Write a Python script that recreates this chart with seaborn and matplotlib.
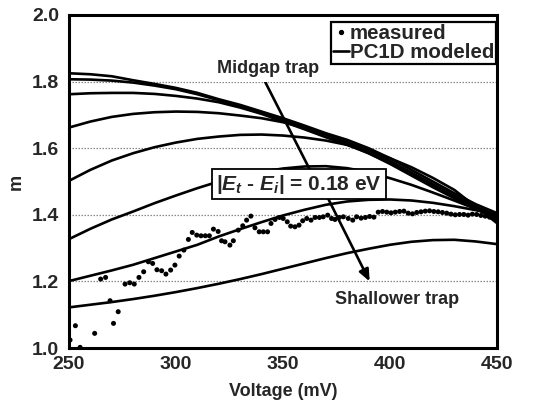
import numpy as np
import pandas as pd
import matplotlib
matplotlib.use("Agg")
import matplotlib.pyplot as plt
import seaborn as sns
from matplotlib.lines import Line2D

# ---------------- data ----------------
voltage_model = [250, 260, 270, 280, 290, 300, 310, 320, 330, 340, 350,
                 360, 370, 380, 390, 400, 410, 420, 430, 440, 450]

curve_a = [1.825, 1.822, 1.816, 1.804, 1.793, 1.781, 1.766, 1.747, 1.730, 1.710, 1.690,
           1.668, 1.645, 1.625, 1.600, 1.570, 1.535, 1.500, 1.465, 1.432, 1.405]
curve_b = [1.807, 1.806, 1.803, 1.797, 1.788, 1.777, 1.762, 1.744, 1.725, 1.705, 1.685,
           1.663, 1.640, 1.618, 1.593, 1.562, 1.527, 1.492, 1.458, 1.425, 1.398]
curve_c = [1.762, 1.765, 1.766, 1.766, 1.763, 1.757, 1.749, 1.738, 1.722, 1.703, 1.680,
           1.657, 1.633, 1.610, 1.585, 1.553, 1.518, 1.483, 1.450, 1.418, 1.390]
curve_d = [1.662, 1.680, 1.694, 1.703, 1.708, 1.710, 1.709, 1.705, 1.698, 1.690, 1.678,
           1.662, 1.643, 1.612, 1.585, 1.555, 1.523, 1.490, 1.455, 1.420, 1.385]
curve_e = [1.502, 1.535, 1.563, 1.585, 1.603, 1.617, 1.628, 1.635, 1.640, 1.641, 1.638,
           1.632, 1.623, 1.610, 1.592, 1.570, 1.543, 1.511, 1.475, 1.425, 1.375]
curve_f = [1.327, 1.358, 1.386, 1.410, 1.435, 1.458, 1.480, 1.500, 1.516, 1.529, 1.539,
           1.545, 1.546, 1.540, 1.528, 1.510, 1.490, 1.467, 1.443, 1.418, 1.393]
curve_g = [1.201, 1.217, 1.233, 1.250, 1.270, 1.290, 1.310, 1.335, 1.357, 1.378, 1.398,
           1.415, 1.430, 1.440, 1.445, 1.446, 1.443, 1.436, 1.426, 1.414, 1.400]
curve_h = [1.122, 1.130, 1.138, 1.147, 1.157, 1.168, 1.180, 1.193, 1.207, 1.222, 1.238,
           1.254, 1.270, 1.285, 1.298, 1.310, 1.319, 1.324, 1.325, 1.320, 1.312]

model_curves = {"A": curve_a, "B": curve_b, "C": curve_c, "D": curve_d,
                "E": curve_e, "F": curve_f, "G": curve_g, "H": curve_h}

voltage_meas = [250.5, 253.0, 255.2, 262.0, 264.8, 267.1, 269.2, 270.8, 273.0, 276.2,
                278.4, 280.5, 282.7, 284.9, 287.1, 289.1, 291.1, 293.3, 295.3, 297.5,
                299.5, 301.5, 303.7, 305.8, 307.6, 309.7, 311.7, 313.7, 315.6, 317.5,
                319.7, 321.3, 322.9, 325.2, 326.8, 329.1, 331.2, 333.0, 335.0, 336.9,
                338.9, 340.8, 342.8, 344.4, 346.3, 348.3, 350.1, 352.0, 353.6, 355.6,
                357.5, 359.2, 361.1, 363.1, 365.0, 367.0, 368.8, 370.9, 372.7, 374.3,
                376.3, 378.2, 380.5, 382.6, 384.4, 386.5, 388.5, 390.5, 392.5, 394.5,
                396.5, 398.5, 400.5, 402.5, 404.5, 406.5, 408.5, 410.5, 412.5, 414.5,
                416.5, 418.5, 420.5, 422.5, 424.5, 426.5, 428.5, 430.5, 432.5, 434.5,
                436.5, 438.5, 440.5, 442.5, 444.5, 446.5, 448.5, 450.0]
m_meas = [1.024, 1.067, 1.002, 1.044, 1.207, 1.212, 1.142, 1.074, 1.109, 1.192,
          1.196, 1.192, 1.212, 1.229, 1.259, 1.254, 1.235, 1.232, 1.222, 1.234,
          1.249, 1.276, 1.294, 1.326, 1.347, 1.339, 1.337, 1.337, 1.337, 1.357,
          1.350, 1.322, 1.319, 1.309, 1.322, 1.354, 1.367, 1.384, 1.396, 1.361,
          1.349, 1.349, 1.349, 1.374, 1.386, 1.392, 1.389, 1.379, 1.366, 1.364,
          1.369, 1.382, 1.389, 1.384, 1.392, 1.392, 1.394, 1.399, 1.389, 1.386,
          1.392, 1.394, 1.389, 1.384, 1.394, 1.390, 1.392, 1.395, 1.393, 1.408,
          1.410, 1.408, 1.406, 1.408, 1.410, 1.411, 1.405, 1.403, 1.407, 1.409,
          1.411, 1.412, 1.410, 1.409, 1.407, 1.405, 1.402, 1.400, 1.401, 1.401,
          1.399, 1.402, 1.401, 1.398, 1.396, 1.393, 1.390, 1.387]

x_ticks = [250, 300, 350, 400, 450]
y_ticks = [1.0, 1.2, 1.4, 1.6, 1.8, 2.0]

# ---------------- style ----------------
sns.set_style("white")
plt.rcParams["font.family"] = ["Liberation Sans", "DejaVu Sans"]
plt.rcParams["font.weight"] = "bold"
plt.rcParams["axes.labelweight"] = "bold"
plt.rcParams["mathtext.fontset"] = "custom"
plt.rcParams["mathtext.rm"] = "Liberation Sans:bold"
plt.rcParams["mathtext.it"] = "Liberation Sans:bold:italic"
plt.rcParams["mathtext.bf"] = "Liberation Sans:bold"

fig = plt.figure(figsize=(5.36, 4.05), dpi=100)
ax = fig.add_axes([0.1287, 0.1407, 0.7985, 0.8223])

model_df = pd.DataFrame(
    [(v, m, name) for name, vals in model_curves.items() for v, m in zip(voltage_model, vals)],
    columns=["Voltage", "m", "curve"])
meas_df = pd.DataFrame({"Voltage": voltage_meas, "m": m_meas})

sns.lineplot(data=model_df, x="Voltage", y="m", units="curve", estimator=None,
             color="black", linewidth=1.9, ax=ax, zorder=3, legend=False)
sns.scatterplot(data=meas_df, x="Voltage", y="m", color="black", s=13,
                edgecolor="none", ax=ax, zorder=4, legend=False)

ax.set_xlim(250, 450)
ax.set_ylim(1.0, 2.0)
ax.set_xticks(x_ticks)
ax.set_yticks(y_ticks)
ax.set_xticklabels([str(t) for t in x_ticks])
ax.set_yticklabels([f"{t:.1f}" for t in y_ticks])
ax.tick_params(axis="both", which="both", direction="in", length=5, width=1.2,
               labelsize=14, color="black")
ax.tick_params(axis="x", pad=6)
ax.tick_params(axis="y", pad=7)
for lbl in ax.get_xticklabels() + ax.get_yticklabels():
    lbl.set_fontweight("bold")
ax.set_xlabel("Voltage (mV)", fontsize=13, fontweight="bold", labelpad=7)
ax.set_ylabel("m", fontsize=13, fontweight="bold", labelpad=5)

for g in [1.2, 1.4, 1.6, 1.8]:
    ax.axhline(g, color="#888888", linestyle=(0, (1.2, 1.2)), linewidth=0.9, zorder=1)

for sp in ax.spines.values():
    sp.set_color("black")
    sp.set_linewidth(2.2)

# legend
handles = [Line2D([], [], marker="o", color="black", linestyle="none", markersize=2.8),
           Line2D([], [], color="black", linewidth=1.9)]
leg = ax.legend(handles, ["measured", "PC1D modeled"], loc="upper right",
                bbox_to_anchor=(0.998, 0.978), borderaxespad=0,
                handlelength=0.75, handletextpad=0.05, borderpad=0.1,
                labelspacing=0.0, fancybox=False, framealpha=1,
                prop={"weight": "bold", "size": 14.8})
leg.get_frame().set_edgecolor("black")
leg.get_frame().set_linewidth(1.6)
leg.set_zorder(10)

# annotations
ax.text(343, 1.838, "Midgap trap", ha="center", va="center", fontsize=13,
        fontweight="bold", zorder=6,
        bbox=dict(facecolor="white", edgecolor="none", pad=3))
ax.plot([341.6, 362.6], [1.80, 1.535], color="black", linewidth=1.9, zorder=5)

ax.text(357.5, 1.492, r"|$E_t$ - $E_i$| = 0.18 eV", ha="center", va="center",
        fontsize=15, fontweight="bold", zorder=7,
        bbox=dict(facecolor="white", edgecolor="black", linewidth=1.3,
                  boxstyle="square,pad=0.18"))

ax.annotate("", xy=(390.5, 1.200), xytext=(371, 1.45), zorder=5,
            arrowprops=dict(arrowstyle="-|>,head_length=0.7,head_width=0.3",
                            color="black", linewidth=1.9, shrinkA=0, shrinkB=0))
ax.text(403.3, 1.147, "Shallower trap", ha="center", va="center", fontsize=13,
        fontweight="bold", zorder=6)

fig.savefig("out.png", dpi=100, facecolor="white")
